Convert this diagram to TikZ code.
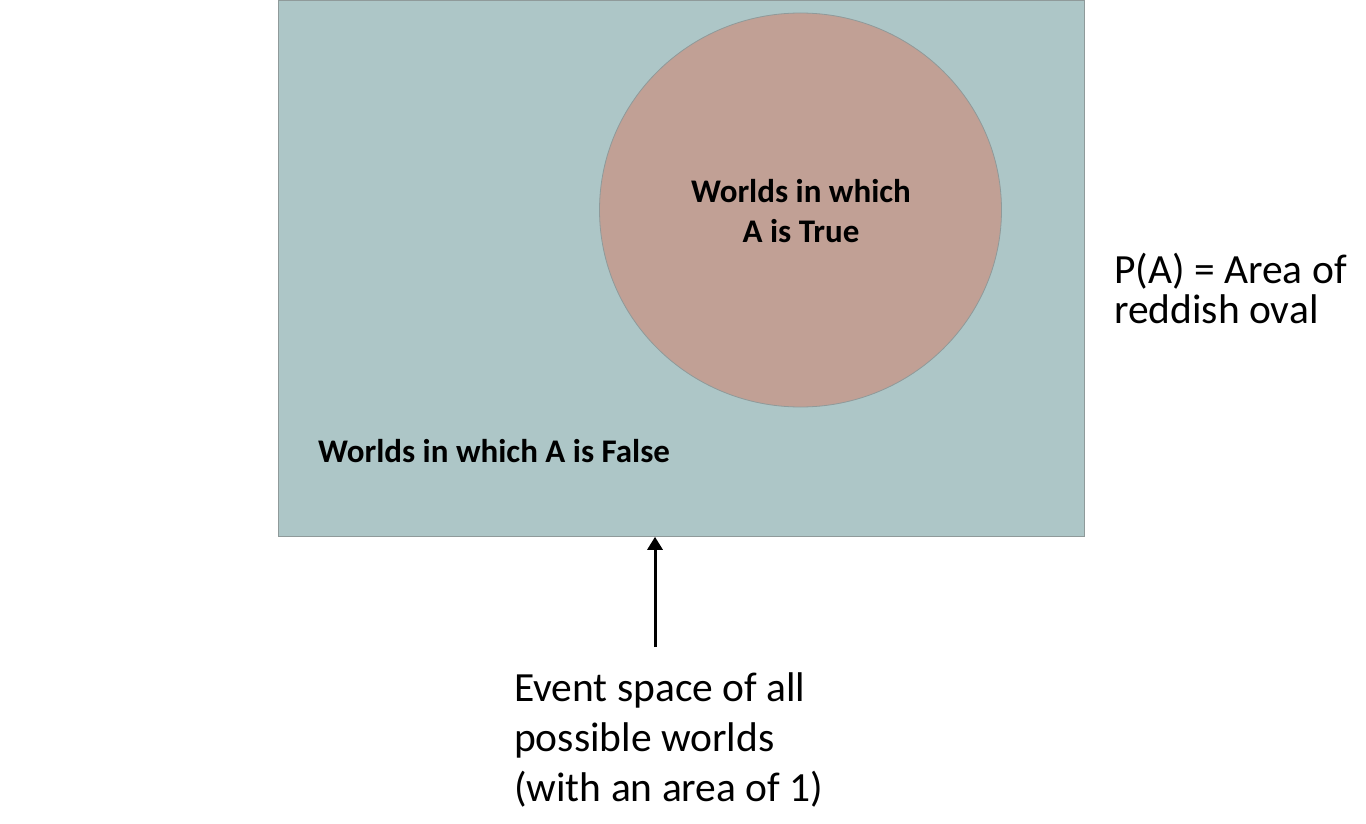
\documentclass[tikz,border=0pt]{standalone}
\usepackage{fontspec}
\setmainfont{Carlito}
\usetikzlibrary{shapes.geometric,arrows.meta}
\definecolor{spacefill}{HTML}{ADC6C7}
\definecolor{ovalfill}{HTML}{C1A095}
\definecolor{edgegrey}{HTML}{8F9A9A}
\begin{document}
\begin{tikzpicture}[x=1pt,y=-1pt,
  region/.style={draw=edgegrey, line width=0.8pt, inner sep=0pt},
  boldlabel/.style={font=\bfseries\fontsize{33}{40}\selectfont, text=black, align=center, inner sep=0pt},
  plainlabel/.style={font=\fontsize{41.5}{40}\selectfont, text=black, align=left, inner sep=0pt, anchor=west},
  pointer/.style={line width=3pt, -{Triangle[length=13pt,width=15pt]}}]
\useasboundingbox (0,0) rectangle (1366,824);
\node[region, fill=spacefill, rectangle, minimum width=806pt, minimum height=536pt, anchor=north west] (space) at (278,0) {};
\node[region, fill=ovalfill, ellipse, minimum width=402pt, minimum height=394pt] (oval) at (800.5,210) {};
\node[boldlabel] (truelbl) at (801,211) {Worlds in which\\A is True};
\node[boldlabel, anchor=west] (falselbl) at (318,451) {Worlds in which A is False};
\node[plainlabel] (plbl) at (1114,288) {P(A) = Area of\\reddish oval};
\node[plainlabel, font=\fontsize{41.5}{50}\selectfont] (evlbl) at (514,740) {Event space of all\\possible worlds\\(with an area of 1)};
\coordinate (tail) at (655,647);
\draw[pointer] (tail) -- (tail |- space.south);
\end{tikzpicture}
\end{document}
